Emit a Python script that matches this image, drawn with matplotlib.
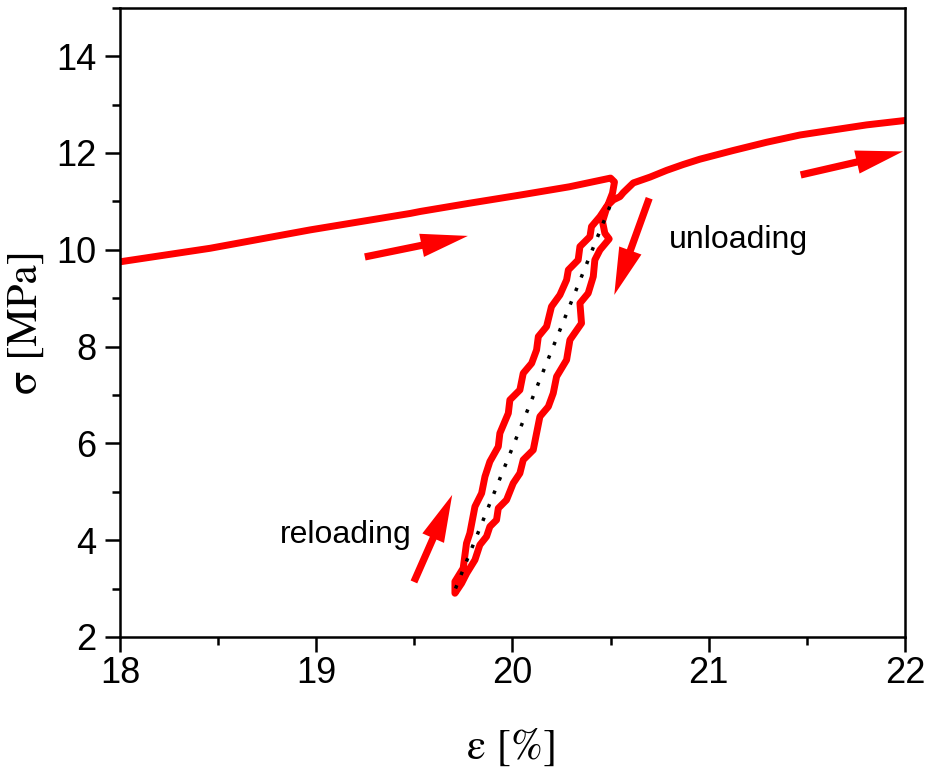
import matplotlib
matplotlib.use("Agg")
import matplotlib.pyplot as plt
from matplotlib.ticker import MultipleLocator

# Stress-strain record around one unloading / reloading cycle
load_eps = [18.00, 18.46, 18.97, 19.48, 19.53, 19.78, 20.04, 20.29, 20.50, 20.52, 20.51]
load_sig = [9.75, 10.03, 10.41, 10.75, 10.79, 10.96, 11.13, 11.30, 11.48, 11.40, 11.17]

unload_eps = [20.51, 20.48, 20.459, 20.471, 20.493, 20.446, 20.420, 20.412, 20.386, 20.344,
              20.352, 20.293, 20.276, 20.225, 20.208, 20.183, 20.140, 20.123, 20.106, 20.055,
              20.038, 20.004, 19.970, 19.928, 19.919, 19.885, 19.868, 19.834, 19.809, 19.767,
              19.741, 19.707]
unload_sig = [11.10, 10.856, 10.581, 10.340, 10.223, 9.995, 9.789, 9.445, 9.100, 8.894,
              8.480, 8.136, 7.723, 7.378, 7.034, 6.758, 6.552, 6.208, 5.863, 5.657,
              5.381, 5.175, 4.830, 4.658, 4.417, 4.279, 4.073, 3.900, 3.591, 3.315,
              3.108, 2.902]

reload_eps = [19.707, 19.707, 19.749, 19.766, 19.783, 19.809, 19.843, 19.860, 19.885, 19.928,
              19.936, 19.979, 19.987, 20.038, 20.055, 20.098, 20.123, 20.132, 20.174, 20.199,
              20.242, 20.276, 20.285, 20.335, 20.344, 20.395, 20.403, 20.446, 20.480, 20.514,
              20.548]
reload_sig = [2.902, 3.143, 3.419, 3.935, 4.141, 4.693, 4.968, 5.312, 5.622, 5.932,
              6.208, 6.621, 6.896, 7.103, 7.447, 7.654, 7.929, 8.205, 8.412, 8.825,
              9.066, 9.376, 9.582, 9.789, 10.065, 10.271, 10.478, 10.684, 10.891, 11.029,
              11.097]

cont_eps = [20.548, 20.565, 20.616, 20.701, 20.786, 20.870, 20.955, 21.125, 21.295,
            21.465, 21.635, 21.805, 22.00]
cont_sig = [11.097, 11.18, 11.38, 11.50, 11.64, 11.76, 11.87, 12.05, 12.22,
            12.37, 12.475, 12.579, 12.67]

# Secant through the loop tips
secant_eps = [19.71, 20.50]
secant_sig = [3.00, 10.93]

x_ticks = [18, 19, 20, 21, 22]
y_ticks = [2, 4, 6, 8, 10, 12, 14]

sans = ["Liberation Sans", "DejaVu Sans"]
serif = ["STIXGeneral", "Liberation Serif", "DejaVu Serif"]

fig = plt.figure(figsize=(9.3, 7.72), dpi=100)
ax = fig.add_axes([0.129, 0.175, 0.844, 0.815])

red = "#ff0000"
kw = dict(color=red, lw=5.0, solid_joinstyle="round", solid_capstyle="round")
ax.plot(load_eps + unload_eps[1:] + reload_eps[1:] + cont_eps[1:],
        load_sig + unload_sig[1:] + reload_sig[1:] + cont_sig[1:], **kw)
ax.plot(secant_eps, secant_sig, color="black", lw=2.5, linestyle=(0, (1, 3.2)))

ax.set_xlim(18, 22)
ax.set_ylim(2, 15)
ax.set_xticks(x_ticks)
ax.set_yticks(y_ticks)
ax.xaxis.set_minor_locator(MultipleLocator(0.5))
ax.yaxis.set_minor_locator(MultipleLocator(1))
ax.tick_params(which="both", direction="out", width=1.8, top=False, right=False)
ax.tick_params(which="major", length=11)
ax.tick_params(which="minor", length=6)
ax.tick_params(axis="x", pad=3)
ax.tick_params(axis="y", pad=6)
for lab in ax.get_xticklabels() + ax.get_yticklabels():
    lab.set_fontfamily(sans)
    lab.set_fontsize(26)
for sp in ax.spines.values():
    sp.set_linewidth(1.8)

ax.set_xlabel("ε [%]", family=serif, fontsize=31, labelpad=27)
ax.set_ylabel("σ [MPa]", family=serif, fontsize=31, labelpad=7)

# Direction arrows
arrow = dict(arrowstyle="simple,head_length=1.7,head_width=0.85,tail_width=0.26",
             color=red, shrinkA=0, shrinkB=0, mutation_scale=20, lw=0)
for tail, head in [((19.248, 9.851), (19.773, 10.285)),
                   ((21.469, 11.545), (21.99, 12.03)),
                   ((20.697, 11.064), (20.519, 9.066)),
                   ((19.498, 3.136), (19.693, 4.934))]:
    ax.annotate("", xy=head, xytext=tail, arrowprops=arrow)

ax.text(21.15, 10.2, "unloading", family=sans, fontsize=23, ha="center", va="center")
ax.text(19.15, 4.1, "reloading", family=sans, fontsize=23, ha="center", va="center")

fig.savefig("out.png", dpi=100)
